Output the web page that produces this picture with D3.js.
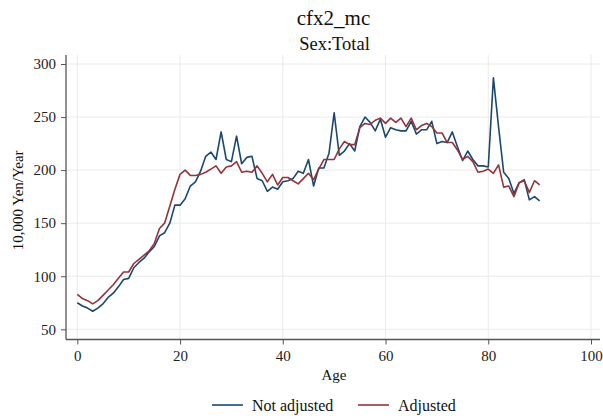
<!DOCTYPE html>
<html>
<head>
<meta charset="utf-8">
<script src="https://cdn.jsdelivr.net/npm/d3@7"></script>
<style>
  body { margin: 0; background: #fff; }
  svg { display: block; }
  svg text { font-family: "Liberation Serif", "Times New Roman", serif; fill: #111; }
</style>
</head>
<body>
<svg id="chart" width="603" height="419"></svg>
<script>
const ages = d3.range(0, 91);
const notAdjusted = [
  75, 72, 70, 67, 70, 74, 80, 84, 90, 97,
  98, 108, 113, 117, 123, 128, 138, 141, 150, 167,
  167, 173, 185, 189, 199, 213, 217, 210, 236, 210,
  208, 232, 206, 212, 213, 192, 190, 180, 184, 182,
  189, 190, 192, 199, 197, 210, 185, 202, 202, 216,
  254, 214, 218, 225, 218, 241, 250, 245, 237, 248,
  231, 240, 238, 237, 237, 246, 234, 238, 238, 246,
  225, 227, 226, 236, 222, 209, 218, 210, 204, 204,
  203, 287, 241, 198, 192, 178, 188, 191, 172, 175,
  171
];
const adjusted = [
  83, 79, 77, 74, 77, 82, 87, 92, 98, 104,
  104, 112, 116, 120, 124, 131, 145, 150, 166, 182,
  196, 200, 195, 195, 196, 198, 201, 204, 197, 203,
  204, 208, 198, 199, 198, 204, 197, 189, 196, 186,
  193, 193, 190, 187, 192, 197, 191, 201, 210, 210,
  210, 220, 227, 224, 224, 240, 244, 243, 247, 249,
  244, 249, 245, 249, 241, 249, 238, 242, 244, 241,
  235, 235, 226, 226, 219, 210, 213, 208, 198, 199,
  201, 197, 205, 184, 185, 175, 188, 190, 179, 190,
  186
];
const xTicks = [0, 20, 40, 60, 80, 100];
const yTicks = [50, 100, 150, 200, 250, 300];
const seriesNames = ["Not adjusted", "Adjusted"];
const seriesColors = ["#1a476f", "#90353b"];

const svg = d3.select("#chart");
const pLeft = 66, pRight = 600, pTop = 55, pBottom = 339.5;

const x = d3.scaleLinear().domain([0, 100]).range([77.3, 591]);
const y = d3.scaleLinear().domain([50, 300]).range([329.3, 64]);

// gridlines
const grid = svg.append("g");
grid.selectAll("line.h").data(yTicks).enter().append("line")
  .attr("x1", pLeft).attr("x2", pRight)
  .attr("y1", d => y(d)).attr("y2", d => y(d))
  .attr("stroke", "#eaeaea").attr("stroke-width", 1);
grid.selectAll("line.v").data(xTicks).enter().append("line")
  .attr("y1", pTop).attr("y2", pBottom)
  .attr("x1", d => x(d)).attr("x2", d => x(d))
  .attr("stroke", "#eaeaea").attr("stroke-width", 1);

// axes
const yAxis = d3.axisLeft(y).tickValues(yTicks).tickSize(5).tickPadding(5);
const gy = svg.append("g").attr("transform", `translate(${pLeft},0)`).call(yAxis);
gy.select(".domain").remove();
svg.append("line").attr("x1", pLeft).attr("x2", pLeft).attr("y1", pTop).attr("y2", pBottom)
  .attr("stroke", "#555").attr("stroke-width", 1.3);

const xAxis = d3.axisBottom(x).tickValues(xTicks).tickSize(5).tickPadding(6);
const gx = svg.append("g").attr("transform", `translate(0,${pBottom})`).call(xAxis);
gx.select(".domain").remove();
svg.append("line").attr("x1", pLeft).attr("x2", pRight).attr("y1", pBottom).attr("y2", pBottom)
  .attr("stroke", "#555").attr("stroke-width", 1.3);

[gx, gy].forEach(g => {
  g.attr("font-family", null).attr("font-size", null);
  g.selectAll("text").style("font-size", "15px").style("fill", "#222");
  g.selectAll(".tick line").attr("stroke", "#555");
});

// lines
const line = d3.line().x((d, i) => x(ages[i])).y(d => y(d));
[notAdjusted, adjusted].forEach((s, k) => {
  svg.append("path").datum(s)
    .attr("fill", "none")
    .attr("stroke", seriesColors[k])
    .attr("stroke-width", 1.6)
    .attr("stroke-linejoin", "round")
    .attr("d", line);
});

// titles
svg.append("text").attr("x", 333.5).attr("y", 25).attr("text-anchor", "middle")
  .style("font-size", "21px").text("cfx2_mc");
svg.append("text").attr("x", 334.5).attr("y", 50).attr("text-anchor", "middle")
  .style("font-size", "18.5px").text("Sex:Total");

svg.append("text").attr("transform", `translate(23,${(pTop + pBottom) / 2 + 3}) rotate(-90)`)
  .attr("text-anchor", "middle").style("font-size", "15px").text("10,000 Yen/Year");
svg.append("text").attr("x", 334).attr("y", 380).attr("text-anchor", "middle")
  .style("font-size", "15px").text("Age");

// legend
const legendPos = [212, 358];
seriesNames.forEach((name, k) => {
  const lx = legendPos[k];
  svg.append("line").attr("x1", lx).attr("x2", lx + 31).attr("y1", 405).attr("y2", 405)
    .attr("stroke", seriesColors[k]).attr("stroke-width", 1.6);
  svg.append("text").attr("x", lx + 40).attr("y", 410.5).style("font-size", "16px").text(name);
});
</script>
</body>
</html>
